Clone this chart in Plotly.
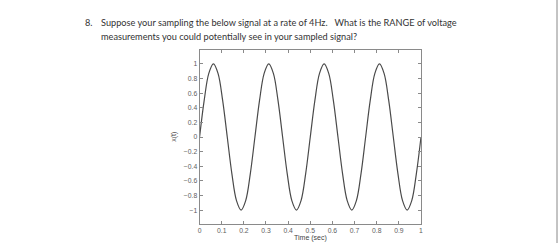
import plotly.graph_objects as go

# Time samples (sec) and signal values x(t) (4 Hz sine, amplitude 1)
time_sec = [0, 0.0208, 0.0417, 0.0625, 0.0833, 0.1042, 0.125, 0.1458, 0.1667, 0.1875,
            0.2083, 0.2292, 0.25, 0.2708, 0.2917, 0.3125, 0.3333, 0.3542, 0.375, 0.3958,
            0.4167, 0.4375, 0.4583, 0.4792, 0.5, 0.5208, 0.5417, 0.5625, 0.5833, 0.6042,
            0.625, 0.6458, 0.6667, 0.6875, 0.7083, 0.7292, 0.75, 0.7708, 0.7917, 0.8125,
            0.8333, 0.8542, 0.875, 0.8958, 0.9167, 0.9375, 0.9583, 0.9792, 1.0]
x_values = [0, 0.5, 0.87, 1, 0.87, 0.5, 0, -0.5, -0.87, -1, -0.87, -0.5,
            0, 0.5, 0.87, 1, 0.87, 0.5, 0, -0.5, -0.87, -1, -0.87, -0.5,
            0, 0.5, 0.87, 1, 0.87, 0.5, 0, -0.5, -0.87, -1, -0.87, -0.5,
            0, 0.5, 0.87, 1, 0.87, 0.5, 0, -0.5, -0.87, -1, -0.87, -0.5,
            0]

x_ticks = [0, 0.1, 0.2, 0.3, 0.4, 0.5, 0.6, 0.7, 0.8, 0.9, 1]
x_tick_labels = ["0", "0.1", "0.2", "0.3", "0.4", "0.5", "0.6", "0.7", "0.8", "0.9", "1"]
y_ticks = [-1, -0.8, -0.6, -0.4, -0.2, 0, 0.2, 0.4, 0.6, 0.8, 1]
y_tick_labels = ["\u22121", "\u22120.8", "\u22120.6", "\u22120.4", "\u22120.2", "0",
                 "0.2", "0.4", "0.6", "0.8", "1"]

question_line1 = "Suppose your sampling the below signal at a rate of 4Hz.&nbsp;&nbsp; What is the RANGE of voltage"
question_line2 = "measurements you could potentially see in your sampled signal?"

W, H = 560, 243
fig = go.Figure()
fig.add_trace(go.Scatter(x=time_sec, y=x_values, mode="lines",
                         line=dict(color="#4a4a4a", width=1.2, shape="spline"),
                         hoverinfo="skip", showlegend=False))

axis_common = dict(showgrid=False, zeroline=False, showline=True, linecolor="#8a8a8a",
                   linewidth=1, mirror="ticks", ticks="inside", ticklen=3,
                   tickcolor="#8a8a8a", tickwidth=1,
                   tickfont=dict(family="Liberation Sans, Arial, sans-serif", size=6.8, color="#606060"))

fig.update_layout(
    width=W, height=H, margin=dict(l=0, r=0, t=0, b=0),
    paper_bgcolor="white", plot_bgcolor="white",
    xaxis=dict(range=[0, 1], domain=[199 / W, 422 / W], tickvals=x_ticks,
               ticktext=x_tick_labels, **axis_common),
    yaxis=dict(range=[-1.19, 1.19], domain=[1 - 224 / H, 1 - 50 / H], tickvals=y_ticks,
               ticktext=y_tick_labels, **axis_common),
)

qfont = dict(family="Lato, Open Sans, sans-serif", size=9.2, color="#333333")
fig.add_annotation(x=82 / W, y=1 - 22 / H, xref="paper", yref="paper", text="8.",
                   showarrow=False, xanchor="left", yanchor="middle", font=qfont)
fig.add_annotation(x=98 / W, y=1 - 22 / H, xref="paper", yref="paper", text=question_line1,
                   showarrow=False, xanchor="left", yanchor="middle", font=qfont)
fig.add_annotation(x=98 / W, y=1 - 37 / H, xref="paper", yref="paper", text=question_line2,
                   showarrow=False, xanchor="left", yanchor="middle", font=qfont)

lab_font = dict(family="Liberation Sans, Arial, sans-serif", size=7, color="#444444")
fig.add_annotation(x=310.5 / W, y=1 - 238 / H, xref="paper", yref="paper", text="Time (sec)",
                   showarrow=False, xanchor="center", yanchor="middle", font=lab_font)
fig.add_annotation(x=173 / W, y=1 - 137 / H, xref="paper", yref="paper", text="x(t)",
                   showarrow=False, xanchor="center", yanchor="middle", textangle=-90,
                   font=lab_font)

fig.add_shape(type="line", xref="paper", yref="paper", x0=559 / W, x1=559 / W, y0=0, y1=1,
              line=dict(color="#888888", width=1))

fig.write_html("out.html")
